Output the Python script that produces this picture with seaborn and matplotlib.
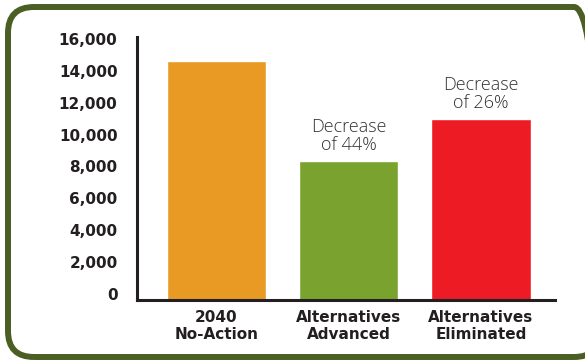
"""
Bar chart: 2040 no-action vs alternatives, with decrease annotations
"""
import pandas as pd
import seaborn as sns
import matplotlib.pyplot as plt
import matplotlib.transforms as mtransforms
from matplotlib.patches import FancyBboxPatch

# values
categories = ["2040\nNo-Action", "Alternatives\nAdvanced", "Alternatives\nEliminated"]
values = [15000, 8700, 11350]
notes = ["", "Decrease\nof 44%", "Decrease\nof 26%"]
colors = ["#E89A25", "#7AA22F", "#ED1C24"]
yticks = [0, 2000, 4000, 6000, 8000, 10000, 12000, 14000, 16000]

sns.set_theme(style="white")
plt.rcParams["font.family"] = ["DejaVu Sans"]

df = pd.DataFrame({"category": categories, "value": values})

fig = plt.figure(figsize=(5.85, 3.62), dpi=100)
ax = fig.add_axes([137 / 585, 1 - 300 / 362, (555 - 137) / 585, (300 - 37) / 362])

sns.barplot(df, x="category", y="value", hue="category", palette=colors,
            legend=False, width=0.75, saturation=1, ax=ax)

ax.set_ylim(0, 16500)
ax.set_xlim(-0.6, 2.56)
ax.set_yticks(yticks)
ax.set_yticklabels([f"{t:,}" for t in yticks])
ax.set_xlabel("")
ax.set_ylabel("")

dark = "#231f20"
sns.despine(ax=ax)
for side in ["left", "bottom"]:
    ax.spines[side].set_color(dark)
    ax.spines[side].set_linewidth(2.2)

ax.tick_params(axis="y", length=0, pad=14, labelsize=11, labelcolor=dark)
ax.tick_params(axis="x", length=0, pad=7, labelsize=11, labelcolor=dark)
for lab in ax.get_yticklabels() + ax.get_xticklabels():
    lab.set_fontweight("bold")
# labels in the reference sit a little above their grid value
for lab in ax.get_yticklabels():
    lab.set_transform(lab.get_transform() + mtransforms.ScaledTranslation(0, 6 / 100, fig.dpi_scale_trans))

for i, (v, note) in enumerate(zip(values, notes)):
    if note:
        ax.annotate(note, (i, v), xytext=(0, 5), textcoords="offset points",
                    ha="center", va="bottom", fontsize=13, color="#333333",
                    family=["Open Sans", "DejaVu Sans"], fontweight="light",
                    linespacing=1.0)

# rounded green frame, runs off the right edge like the original
frame = FancyBboxPatch((8, 5), 592, 350, boxstyle="round,pad=0,rounding_size=26",
                       transform=mtransforms.IdentityTransform(),
                       facecolor="none", edgecolor="#4b5e23", linewidth=4.3)
fig.add_artist(frame)

fig.savefig("out.png", dpi=100)
